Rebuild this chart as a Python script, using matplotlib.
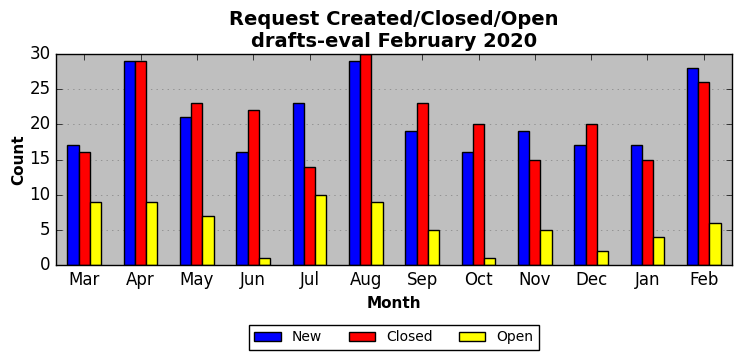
import matplotlib
matplotlib.use("Agg")
import matplotlib.pyplot as plt
import numpy as np

plt.style.use('classic')

months = ["Mar", "Apr", "May", "Jun", "Jul", "Aug", "Sep", "Oct", "Nov", "Dec", "Jan", "Feb"]
new = [17, 29, 21, 16, 23, 29, 19, 16, 19, 17, 17, 28]
closed = [16, 29, 23, 22, 14, 30, 23, 20, 15, 20, 15, 26]
opened = [9, 9, 7, 1, 10, 9, 5, 1, 5, 2, 4, 6]

fig = plt.figure(figsize=(7.42, 3.61), dpi=100)
ax = fig.add_axes([56 / 742, 1 - 265 / 361, 676 / 742, 211 / 361])
ax.set_facecolor('#bfbfbf')

x = np.arange(len(months))
w = 0.2
ax.bar(x - w, new, w, color='blue', edgecolor='black', label='New', align='center')
ax.bar(x, closed, w, color='red', edgecolor='black', label='Closed', align='center')
ax.bar(x + w, opened, w, color='yellow', edgecolor='black', label='Open', align='center')

ax.set_xlim(-0.5, len(months) - 0.5)
ax.set_ylim(0, 30)
ax.set_xticks(x)
ax.set_xticklabels(months, fontsize=12)
ax.set_yticks(range(0, 31, 5))
ax.tick_params(axis='y', labelsize=12)
ax.yaxis.grid(True, linestyle=':', color='#808080')
ax.set_axisbelow(True)

ax.set_xlabel('Month', fontsize=11, fontweight='bold')
ax.set_ylabel('Count', fontsize=11, fontweight='bold', labelpad=2)
ax.set_title('Request Created/Closed/Open\ndrafts-eval February 2020', fontsize=14, fontweight='bold')

ax.legend(loc='upper center', bbox_to_anchor=(0.5, -0.25), ncol=3, fontsize=10,
          frameon=True, handlelength=1.9, columnspacing=1.9)

fig.savefig('out.png', dpi=100)
